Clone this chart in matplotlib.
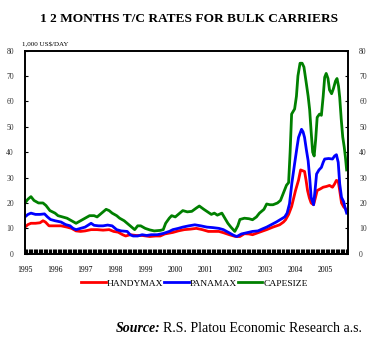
import matplotlib
matplotlib.use("Agg")
import matplotlib.pyplot as plt
import numpy as np

# values, 1,000 US$/day, time in decimal years
cape_t = [1995.0, 1995.1, 1995.2, 1995.3, 1995.45, 1995.6, 1995.7, 1995.83, 1996.0, 1996.1,
          1996.25, 1996.4, 1996.55, 1996.7, 1996.85, 1997.0, 1997.15, 1997.3, 1997.4, 1997.55,
          1997.7, 1997.8, 1997.9, 1998.05, 1998.15, 1998.3, 1998.45, 1998.55, 1998.65, 1998.75,
          1998.85, 1999.0, 1999.15, 1999.3, 1999.5, 1999.6, 1999.68, 1999.8, 1999.88, 2000.0,
          2000.1, 2000.25, 2000.4, 2000.55, 2000.7, 2000.8, 2000.95, 2001.05, 2001.2, 2001.3,
          2001.4, 2001.55, 2001.65, 2001.75, 2001.85, 2001.98, 2002.08, 2002.15, 2002.3, 2002.45,
          2002.57, 2002.7, 2002.8, 2002.95, 2003.04, 2003.15, 2003.25, 2003.4, 2003.5, 2003.6,
          2003.7, 2003.77, 2003.82, 2003.87, 2003.97, 2004.03, 2004.08, 2004.15, 2004.22, 2004.28,
          2004.36, 2004.42, 2004.47, 2004.52, 2004.57, 2004.62, 2004.67, 2004.72, 2004.8, 2004.86,
          2004.92, 2004.97, 2005.02, 2005.08, 2005.13, 2005.2, 2005.26, 2005.33, 2005.38, 2005.43,
          2005.47, 2005.52, 2005.57, 2005.62, 2005.66, 2005.7]
cape_v = [20, 21.5, 22.5, 21, 20, 20, 19, 17, 16, 15,
          14.5, 14, 13, 12, 13, 14, 15, 15, 14.5, 16,
          17.5, 17, 16, 15, 14, 13, 11.5, 10.5, 9.5, 11,
          11, 10, 9.4, 9, 9.2, 9.5, 12, 14, 15, 14.5,
          15.5, 17, 16.5, 16.7, 18, 18.8, 17.5, 16.7, 15.5, 16,
          15.2, 16, 14, 12, 10.5, 8.8, 11, 13.5, 14, 13.8,
          13.4, 14.5, 16, 17.5, 19.6, 19.3, 19.3, 20, 21, 24,
          27, 28, 40, 55, 57, 62, 70, 75, 75, 73.5,
          67, 62, 56.7, 48, 40, 38.5, 45, 53.7, 55, 54.5,
          62, 69.5, 71, 69, 64.5, 63, 65, 68, 69, 66,
          61.5, 53, 46, 42, 38, 33]

pana_t = [1995.0, 1995.1, 1995.2, 1995.35, 1995.5, 1995.65, 1995.75, 1995.85, 1996.0, 1996.2,
          1996.35, 1996.5, 1996.6, 1996.7, 1996.85, 1997.0, 1997.2, 1997.3, 1997.45, 1997.6,
          1997.75, 1997.9, 1998.05, 1998.2, 1998.4, 1998.5, 1998.6, 1998.75, 1998.9, 1999.05,
          1999.2, 1999.4, 1999.6, 1999.8, 1999.92, 2000.1, 2000.25, 2000.45, 2000.65, 2000.85,
          2001.05, 2001.25, 2001.45, 2001.6, 2001.8, 2001.95, 2002.05, 2002.2, 2002.35, 2002.57,
          2002.75, 2002.9, 2003.04, 2003.2, 2003.36, 2003.5, 2003.64, 2003.72, 2003.8, 2003.88,
          2003.97, 2004.05, 2004.1, 2004.2, 2004.25, 2004.3, 2004.36, 2004.42, 2004.47, 2004.52,
          2004.6, 2004.65, 2004.7, 2004.78, 2004.86, 2004.92, 2004.97, 2005.1, 2005.23, 2005.3,
          2005.36, 2005.42, 2005.47, 2005.53, 2005.6, 2005.65, 2005.7]
pana_v = [14.5, 15.5, 16, 15.5, 15.5, 15.7, 14.5, 13.5, 13, 12.5,
          11.5, 11, 10, 9.5, 10, 10.5, 12, 11.2, 11, 11,
          11.3, 11, 9.5, 9, 8.8, 7.5, 7, 7, 7.5, 7.2,
          7.5, 7.5, 8, 8.8, 9.5, 10, 10.5, 11, 11.4, 11,
          10.5, 10.3, 10, 9.5, 8.2, 7.2, 6.8, 7.8, 8.2, 8.8,
          9, 9.8, 10.5, 11.5, 12.5, 13.5, 14.5, 16, 19.7, 28,
          35.5, 42, 45.8, 49, 48, 45.8, 41, 36.6, 30, 22.2,
          19.3, 25, 31.4, 33, 34, 36, 37.3, 37.5, 37.3, 38.5,
          39, 36, 27.5, 22.2, 20.5, 18, 16]

handy_t = [1995.0, 1995.1, 1995.2, 1995.35, 1995.5, 1995.6, 1995.68, 1995.8, 1996.0, 1996.2,
           1996.4, 1996.55, 1996.7, 1996.85, 1997.0, 1997.2, 1997.4, 1997.6, 1997.8, 1997.95,
           1998.1, 1998.25, 1998.35, 1998.5, 1998.7, 1998.9, 1999.15, 1999.35, 1999.5, 1999.65,
           1999.92, 2000.1, 2000.3, 2000.5, 2000.7, 2000.9, 2001.1, 2001.3, 2001.45, 2001.6,
           2001.8, 2002.0, 2002.15, 2002.3, 2002.45, 2002.57, 2002.8, 2003.04, 2003.25, 2003.47,
           2003.6, 2003.67, 2003.77, 2003.87, 2004.0, 2004.1, 2004.17, 2004.3, 2004.35, 2004.4,
           2004.46, 2004.52, 2004.6, 2004.66, 2004.72, 2004.82, 2004.92, 2005.03, 2005.13, 2005.23,
           2005.3, 2005.36, 2005.42, 2005.47, 2005.53, 2005.6, 2005.69]
handy_v = [10.5, 11.5, 12, 12, 12.2, 13, 12.5, 11, 11, 11,
           10.5, 10, 9, 8.8, 9, 9.5, 9.5, 9.3, 9.5, 8.8,
           8.5, 7.5, 7, 7.5, 7.2, 7.2, 6.8, 7, 7, 7.8,
           8.4, 9, 9.5, 9.7, 10, 9.5, 8.8, 8.8, 8.8, 8.3,
           7.5, 6.8, 6.8, 7.9, 7.8, 7.5, 8.5, 9.5, 10.5, 11.4,
           12.5, 13.4, 15.5, 18.6, 24.9, 29, 33, 32.4, 29, 24.9,
           22, 20, 19.3, 22, 24.9, 25.5, 26.2, 26.5, 26.9, 26.2,
           27.5, 28.9, 28.5, 24.9, 20, 18.5, 17.4]

years = list(range(1995, 2006))
y_ticks = [0, 10, 20, 30, 40, 50, 60, 70, 80]

serif = "Liberation Serif"

fig = plt.figure(figsize=(3.78, 3.51), dpi=100)
ax = fig.add_axes([0.066, 0.277, 0.855, 0.579])

ax.plot(handy_t, handy_v, color="#ff0000", lw=2.0, label="HANDYMAX")
ax.plot(pana_t, pana_v, color="#0000ff", lw=2.0, label="PANAMAX")
ax.plot(cape_t, cape_v, color="#008000", lw=2.0, label="CAPESIZE")

ax.set_xlim(1995, 2005.75)
ax.set_ylim(0, 80)
ax.set_xticks(years)
ax.set_xticklabels([str(y) for y in years], fontfamily=serif, fontsize=5.5)
ax.set_xticks(np.arange(1995, 2005.75, 1 / 24), minor=True)
ax.tick_params(axis="x", which="both", direction="in", length=3.5, width=0.8, pad=9)
ax.set_yticks(y_ticks)
ax.set_yticklabels([str(v) for v in y_ticks], fontfamily=serif, fontsize=5.5, color="#333333")
ax.tick_params(axis="y", direction="in", length=2.5, width=0.8, right=True,
               labelright=True, pad=8)
for s in ax.spines.values():
    s.set_linewidth(1.4)

fig.text(0.5, 0.945, "1 2 MONTHS T/C RATES FOR BULK CARRIERS", ha="center", va="center",
         fontfamily=serif, fontweight="bold", fontsize=9.6)
fig.text(0.058, 0.873, "1,000 US$/DAY", ha="left", va="center", fontfamily=serif, fontsize=5)

leg = ax.legend(loc="upper center", bbox_to_anchor=(0.525, -0.105), ncol=3, frameon=False,
                prop={"family": serif, "size": 6.8}, handlelength=2.6, handletextpad=0.1,
                columnspacing=0.1, borderaxespad=0)

# source line: regular part right-aligned, bold italic label just before it
src = fig.text(0.958, 0.065, "R.S. Platou Economic Research a.s.", ha="right", va="center",
               fontfamily=serif, fontsize=10)
fig.canvas.draw()
bb = src.get_window_extent().transformed(fig.transFigure.inverted())
fig.text(bb.x0 - 0.008, 0.065, "Source:", ha="right", va="center", fontfamily=serif,
         fontweight="bold", fontstyle="italic", fontsize=10)

fig.savefig("out.png", dpi=100)
